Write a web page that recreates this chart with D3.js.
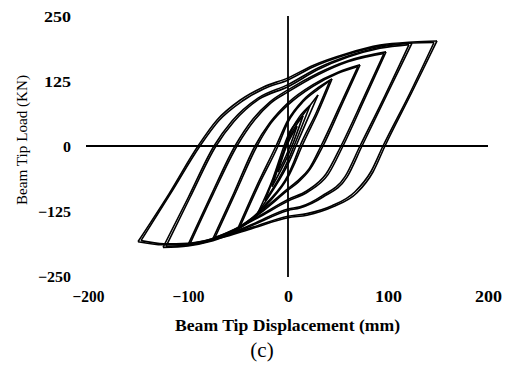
<!DOCTYPE html>
<html>
<head>
<meta charset="utf-8">
<script src="https://cdn.jsdelivr.net/npm/d3@7"></script>
<style>
  html, body { margin: 0; padding: 0; background: #fff; }
  svg { display: block; }
</style>
</head>
<body>
<svg id="chart" width="510" height="367"></svg>
<script>
// ---- data ----
const xTicks = [-200, -100, 0, 100, 200];
const yTicks = [-250, -125, 0, 125, 250];
const xTitle = "Beam Tip Displacement (mm)";
const yTitle = "Beam Tip Load (KN)";
const caption = "(c)";

// displacement (mm), load (kN) for each hysteresis branch (first and second cycle)
const loop1Unload = [[149,202],[123,100],[97,0],[85,-50],[69,-90],[45,-117],[19,-133],[0,-138],[-35,-158],[-68,-177],[-101,-190],[-125,-190],[-150,-184]];
const loop1Reload = [[-150,-184],[-119,-92],[-90,0],[-71,50],[-48,88],[-25,113],[0,131],[25,155],[59,178],[92,194],[125,200],[149,202]];
const loop1bUnload = [[146,199],[121,98],[95,0],[83,-49],[67,-88],[44,-115],[19,-130],[0,-135],[-35,-156],[-68,-175],[-100,-187],[-124,-188],[-147,-182]];
const loop1bReload = [[-147,-182],[-117,-90],[-88,0],[-69,49],[-46,86],[-24,110],[0,127],[25,152],[59,176],[92,192],[124,198],[146,199]];
const loop2Unload = [[124,198],[99,99],[74,0],[59,-60],[35,-98],[12,-119],[0,-124],[-35,-152],[-75,-182],[-100,-192],[-125,-195]];
const loop2Reload = [[-125,-195],[-100,-100],[-74,0],[-56,48],[-30,92],[0,118],[30,150],[60,173],[92,190],[124,198]];
const loop2bUnload = [[121,195],[97,97],[72,0],[57,-59],[34,-96],[12,-117],[0,-121],[-35,-150],[-75,-180],[-100,-190],[-122,-193]];
const loop2bReload = [[-122,-193],[-98,-99],[-72,0],[-54,47],[-29,90],[0,114],[30,147],[60,171],[92,188],[121,195]];
const loop3Unload = [[98,181],[77,92],[55,0],[40,-55],[20,-88],[0,-106],[-30,-138],[-60,-168],[-80,-183],[-100,-190]];
const loop3Reload = [[-100,-190],[-77,-95],[-53,0],[-35,52],[-18,85],[0,108],[30,140],[60,164],[98,181]];
const loop3bUnload = [[96,178],[75,90],[53,0],[38,-54],[19,-86],[0,-103],[-30,-136],[-60,-166],[-80,-181],[-98,-188]];
const loop3bReload = [[-98,-188],[-75,-93],[-51,0],[-33,51],[-17,83],[0,104],[30,137],[60,162],[96,178]];
const loop4Unload = [[72,156],[54,80],[35,0],[22,-45],[10,-70],[0,-85],[-25,-125],[-50,-160],[-75,-178]];
const loop4Reload = [[-75,-178],[-54,-90],[-33,0],[-18,45],[0,83],[25,118],[50,142],[72,156]];
const loop4bUnload = [[70,153],[52,78],[33,0],[21,-44],[9,-68],[0,-82],[-25,-122],[-50,-157],[-73,-176]];
const loop4bReload = [[-73,-176],[-52,-88],[-31,0],[-17,44],[0,79],[25,115],[50,140],[70,153]];
const loop5Unload = [[44,129],[30,65],[14,0],[7,-32],[0,-60],[-20,-110],[-35,-140],[-50,-158]];
const loop5Reload = [[-50,-158],[-32,-80],[-12,0],[0,50],[15,88],[30,112],[44,129]];
const loop5bUnload = [[42,126],[28,63],[12,0],[6,-30],[0,-56],[-20,-107],[-35,-137],[-48,-155]];
const loop5bReload = [[-48,-155],[-30,-78],[-10,0],[0,46],[15,85],[30,109],[42,126]];
const loop6Unload = [[30,98],[18,45],[8,0],[0,-35],[-15,-85],[-30,-128]];
const loop6Reload = [[-30,-128],[-15,-62],[-4,0],[0,20],[15,60],[30,98]];
const loop7Unload = [[22,78],[6,0],[0,-28],[-23,-105]];
const loop7Reload = [[-23,-105],[-4,-8],[0,14],[22,78]];
const loop8Unload = [[15,58],[4,0],[0,-18],[-16,-78]];
const loop8Reload = [[-16,-78],[-3,-5],[0,10],[15,58]];
const loop9Unload = [[9,38],[2,0],[0,-10],[-10,-50]];
const loop9Reload = [[-10,-50],[-2,-3],[0,6],[9,38]];

const branches = [
  loop1Unload, loop1Reload, loop1bUnload, loop1bReload,
  loop2Unload, loop2Reload, loop2bUnload, loop2bReload,
  loop3Unload, loop3Reload, loop3bUnload, loop3bReload,
  loop4Unload, loop4Reload, loop4bUnload, loop4bReload,
  loop5Unload, loop5Reload, loop5bUnload, loop5bReload,
  loop6Unload, loop6Reload, loop7Unload, loop7Reload,
  loop8Unload, loop8Reload, loop9Unload, loop9Reload
];

// ---- drawing ----
const svg = d3.select("#chart");
const x = d3.scaleLinear().domain([-200, 200]).range([88, 488]);
const y = d3.scaleLinear().domain([-250, 250]).range([276, 16]);
const serif = "'Liberation Serif', 'Times New Roman', serif";

// zero lines (cross axes)
svg.append("line")
  .attr("x1", x(-200) - 2).attr("x2", x(200))
  .attr("y1", y(0)).attr("y2", y(0))
  .attr("stroke", "#000").attr("stroke-width", 1.8);
svg.append("line")
  .attr("x1", x(0)).attr("x2", x(0))
  .attr("y1", y(250)).attr("y2", y(-250) + 1)
  .attr("stroke", "#000").attr("stroke-width", 1.8);

// curves
const line = d3.line().x(d => x(d[0])).y(d => y(d[1])).curve(d3.curveMonotoneX);
svg.append("g").selectAll("path")
  .data(branches)
  .join("path")
  .attr("d", d => line(d.slice().sort((a, b) => a[0] - b[0])))
  .attr("fill", "none")
  .attr("stroke", "#000")
  .attr("stroke-width", 1.6)
  .attr("stroke-linejoin", "round");

// y axis labels
const yAxis = svg.append("g")
  .attr("transform", "translate(71,0)")
  .call(d3.axisLeft(y).tickValues(yTicks).tickSize(0).tickPadding(0).tickFormat(d3.format("d")));
yAxis.select(".domain").remove();
yAxis.selectAll("text")
  .attr("font-family", serif).attr("font-weight", "bold").attr("font-size", 15)
  .attr("fill", "#000").attr("dy", "0.34em")
  .attr("textLength", d => d === 0 ? 8 : (d < 0 ? 33 : 27))
  .attr("lengthAdjust", "spacingAndGlyphs");

// x axis labels
const xAxis = svg.append("g")
  .attr("transform", "translate(0,291)")
  .call(d3.axisBottom(x).tickValues(xTicks).tickSize(0).tickPadding(0).tickFormat(d3.format("d")));
xAxis.select(".domain").remove();
xAxis.selectAll("text")
  .attr("font-family", serif).attr("font-weight", "bold").attr("font-size", 16)
  .attr("fill", "#000")
  .attr("textLength", d => d === 0 ? 9 : (d < 0 ? 32 : 27))
  .attr("lengthAdjust", "spacingAndGlyphs");

// titles
svg.append("text")
  .attr("x", 287.5).attr("y", 331)
  .attr("text-anchor", "middle")
  .attr("font-family", serif).attr("font-weight", "bold").attr("font-size", 16)
  .attr("textLength", 225).attr("lengthAdjust", "spacingAndGlyphs")
  .text(xTitle);

svg.append("text")
  .attr("transform", "translate(27,140) rotate(-90)")
  .attr("text-anchor", "middle")
  .attr("font-family", serif).attr("font-size", 15)
  .attr("textLength", 130).attr("lengthAdjust", "spacingAndGlyphs")
  .text(yTitle);

svg.append("text")
  .attr("x", 262).attr("y", 357)
  .attr("text-anchor", "middle")
  .attr("font-family", serif).attr("font-size", 21)
  .text(caption);
</script>
</body>
</html>
